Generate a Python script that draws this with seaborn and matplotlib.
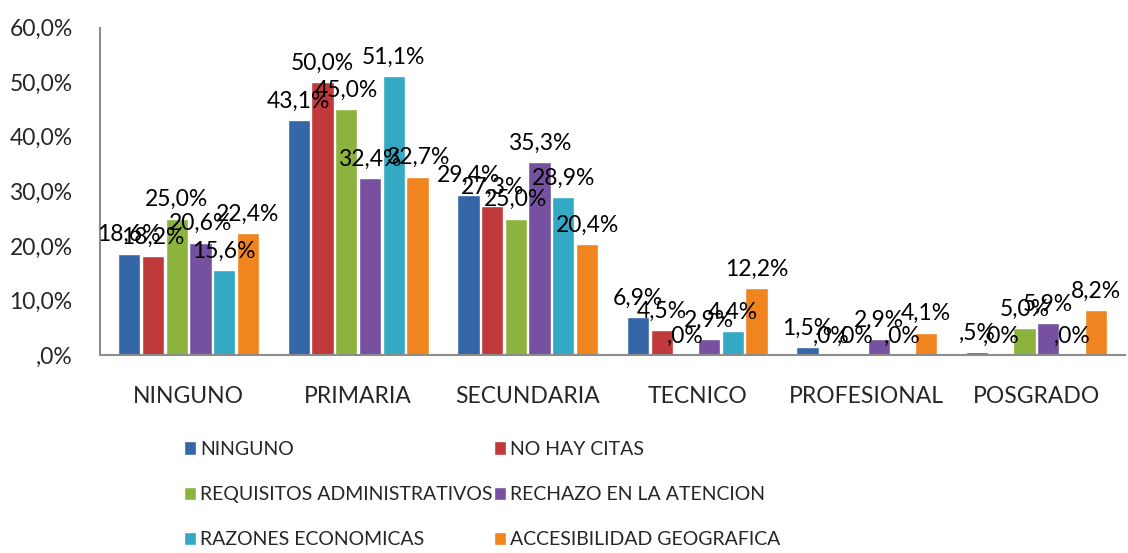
import pandas as pd
import seaborn as sns
import matplotlib.pyplot as plt

niveles = ['NINGUNO', 'PRIMARIA', 'SECUNDARIA', 'TECNICO', 'PROFESIONAL', 'POSGRADO']
motivos = ['NINGUNO', 'NO HAY CITAS', 'REQUISITOS ADMINISTRATIVOS',
           'RECHAZO EN LA ATENCION', 'RAZONES ECONOMICAS', 'ACCESIBILIDAD GEOGRAFICA']

ninguno = [18.6, 43.1, 29.4, 6.9, 1.5, 0.5]
no_hay_citas = [18.2, 50.0, 27.3, 4.5, 0.0, 0.0]
requisitos = [25.0, 45.0, 25.0, 0.0, 0.0, 5.0]
rechazo = [20.6, 32.4, 35.3, 2.9, 2.9, 5.9]
razones_eco = [15.6, 51.1, 28.9, 4.4, 0.0, 0.0]
accesibilidad = [22.4, 32.7, 20.4, 12.2, 4.1, 8.2]

colores = ['#3466A8', '#C0393B', '#8DB33F', '#7651A0', '#33A9C4', '#F0841E']

series = [ninguno, no_hay_citas, requisitos, rechazo, razones_eco, accesibilidad]
filas = []
for motivo, valores in zip(motivos, series):
    for nivel, v in zip(niveles, valores):
        filas.append({'nivel': nivel, 'motivo': motivo, 'pct': v})
df = pd.DataFrame(filas)


def fmt_pct(v):
    s = f'{v:.1f}'.replace('.', ',')
    if s.startswith('0'):
        s = s[1:]
    return s + '%'


sns.set_style('white')
plt.rcParams['font.family'] = ['Lato', 'DejaVu Sans']

fig = plt.figure(figsize=(11.28, 5.53), dpi=100)
ax = fig.add_axes([0.089, 0.358, 0.908, 0.592])

sns.barplot(data=df, x='nivel', y='pct', hue='motivo', order=niveles,
            hue_order=motivos, palette=colores, width=0.84, gap=0.06,
            saturation=1, ax=ax, legend=True)

for cont in ax.containers:
    ax.bar_label(cont, labels=[fmt_pct(b.get_height()) for b in cont],
                 padding=6, fontsize=16.5, color='black')

ax.set_ylim(0, 60)
ax.set_xlim(-0.52, 5.52)
ax.set_yticks(range(0, 61, 10))
ax.set_yticklabels([fmt_pct(t) for t in range(0, 61, 10)], fontsize=16.5)
ax.tick_params(axis='x', labelsize=16.5, pad=22, length=0)
ax.tick_params(axis='y', length=0, pad=20)
ax.set_xlabel('')
ax.set_ylabel('')
for s in ['top', 'right']:
    ax.spines[s].set_visible(False)
for s in ['left', 'bottom']:
    ax.spines[s].set_color('#8c8c8c')
    ax.spines[s].set_linewidth(1.5)

handles, labels = ax.get_legend_handles_labels()
ax.get_legend().remove()
orden = [0, 2, 4, 1, 3, 5]
fig.legend([handles[i] for i in orden], [labels[i] for i in orden],
           ncol=2, loc='upper left', bbox_to_anchor=(0.148, 0.234),
           frameon=False, handlelength=0.6, handleheight=0.7, fontsize=14,
           handletextpad=0.2, columnspacing=0.1, labelspacing=1.45)

fig.savefig('out.png', dpi=100)
